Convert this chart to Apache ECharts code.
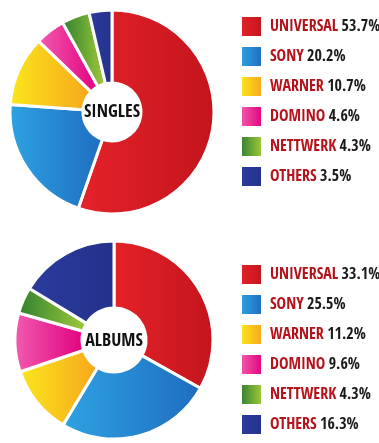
<!DOCTYPE html>
<html><head><meta charset="utf-8">
<script src="https://cdn.jsdelivr.net/npm/echarts@6/dist/echarts.min.js"></script>
<style>html,body{margin:0;padding:0;background:#fff}#c{width:379px;height:443px}</style>
</head><body><div id="c"></div>
<script>
const labels = ['UNIVERSAL','SONY','WARNER','DOMINO','NETTWERK','OTHERS'];
const singles = [53.7, 20.2, 10.7, 4.6, 4.3, 3.5];
const albums = [33.1, 25.5, 11.2, 9.6, 4.3, 16.3];
const palette = [
  ['#e52229','#c3141d'],
  ['#2ea3e3','#1f6cbf'],
  ['#fbe71c','#f7a51d'],
  ['#f25cb0','#e1007e'],
  ['#2f7f2f','#a3cc3a'],
  ['#2b3c9e','#24318a']
];
const FONT = "'Open Sans Condensed','Roboto Condensed',sans-serif";
function grad(i){
  return {type:'linear',x:0,y:0,x2:1,y2:0,colorStops:[{offset:0,color:palette[i][0]},{offset:1,color:palette[i][1]}]};
}
function mkData(vals, suffix){
  return labels.map((n,i)=>({name:n+suffix, value:vals[i], itemStyle:{color:grad(i)}}));
}
const sData = mkData(singles,' ');
const aData = mkData(albums,'  ');
function legendFor(data, vals, top){
  return {
    orient:'vertical', left:240, top:top, itemWidth:21, itemHeight:21, itemGap:7,
    padding:0, icon:'rect', selectedMode:false,
    data:data.map(d=>d.name),
    formatter:function(name){
      const i = data.findIndex(d=>d.name===name);
      return '{n|'+labels[i]+'} {v|'+vals[i].toFixed(1)+'%}';
    },
    textStyle:{
      padding:[0,0,0,3],
      lineHeight:21,
      rich:{
        n:{fontFamily:FONT,fontWeight:'bold',fontSize:16,color:'#b5121b',lineHeight:21},
        v:{fontFamily:FONT,fontWeight:'bold',fontSize:16,color:'#1a1a1a',lineHeight:21}
      }
    }
  };
}
const chart = echarts.init(document.getElementById('c'));
chart.setOption({
  animation:false,
  title:[
    {text:'SINGLES', left:112, top:112, textAlign:'center', textVerticalAlign:'middle', padding:0,
     textStyle:{fontFamily:FONT,fontWeight:'bold',fontSize:18,color:'#111'}},
    {text:'ALBUMS', left:114, top:341, textAlign:'center', textVerticalAlign:'middle', padding:0,
     textStyle:{fontFamily:FONT,fontWeight:'bold',fontSize:18,color:'#111'}}
  ],
  legend:[legendFor(sData,singles,15), legendFor(aData,albums,263)],
  series:[
    {type:'pie', center:[112,112], radius:[29,102], startAngle:90, clockwise:true,
     label:{show:false}, labelLine:{show:false}, silent:true,
     itemStyle:{borderColor:'#fff',borderWidth:3},
     data:sData},
    {type:'pie', center:[114,340], radius:[32,99], startAngle:90, clockwise:true,
     label:{show:false}, labelLine:{show:false}, silent:true,
     itemStyle:{borderColor:'#fff',borderWidth:3},
     data:aData}
  ]
});
</script></body></html>
